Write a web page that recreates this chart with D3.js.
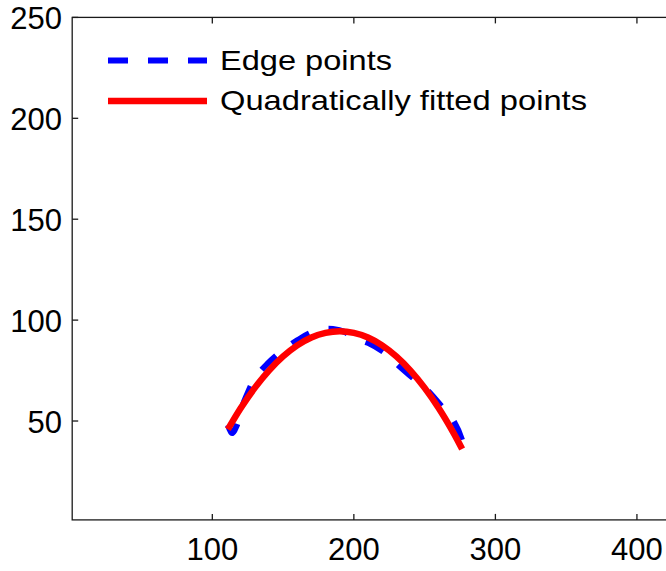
<!DOCTYPE html>
<html>
<head>
<meta charset="utf-8">
<script src="https://cdn.jsdelivr.net/npm/d3@7"></script>
<style>
  html, body { margin: 0; padding: 0; background: #fff; }
  svg { display: block; }
  text { font-family: "Liberation Sans", Arial, Helvetica, sans-serif; fill: #000; }
</style>
</head>
<body>
<svg id="chart" width="666" height="571"></svg>
<script>
// ---- data ----
const edgeX = [111.1, 113.9, 117.4, 120.3, 123.8, 130.2, 138.7, 149.2, 160.5, 174.6, 185.2, 193.7, 198.7, 210.0, 222.0, 231.2, 241.8, 251.7, 262.3, 270.0, 276.4, 277.8];
const edgeY = [48.0, 44.0, 48.0, 55.5, 61.9, 71.3, 78.2, 84.7, 90.2, 95.1, 95.6, 94.1, 91.6, 88.7, 83.7, 77.8, 71.3, 65.4, 57.0, 50.5, 40.6, 34.2];

const fitX = [111, 120, 130, 140, 150, 160, 170, 180, 190, 200, 210, 220, 230, 240, 250, 260, 270, 276.5];
const fitY = [45.8, 56.3, 66.4, 75.0, 82.0, 87.5, 91.4, 93.7, 94.5, 93.7, 91.4, 87.5, 82.0, 75.0, 66.4, 56.3, 44.6, 36.1];

const xTicks = [100, 200, 300, 400];
const yTicks = [50, 100, 150, 200, 250];
const seriesNames = ["Edge points", "Quadratically fitted points"];
const seriesColors = ["#0000ff", "#ff0000"];

// ---- layout ----
const svg = d3.select("#chart");
const x = d3.scaleLinear().domain([1, 450]).range([72.2, 707.7]);
const y = d3.scaleLinear().domain([1, 250]).range([519.9, 17.4]);

const axisColor = "#1a1a1a";
const tickLen = 6;

// frame (right side is cut off by the window)
svg.append("rect")
  .attr("x", x(1)).attr("y", y(250))
  .attr("width", x(450) - x(1)).attr("height", y(1) - y(250))
  .attr("fill", "none").attr("stroke", axisColor).attr("stroke-width", 1.3);

// x ticks (inward, bottom and top) + labels
const xg = svg.append("g");
xTicks.forEach(t => {
  xg.append("line").attr("x1", x(t)).attr("x2", x(t))
    .attr("y1", y(1)).attr("y2", y(1) - tickLen)
    .attr("stroke", axisColor).attr("stroke-width", 1.3);
  xg.append("line").attr("x1", x(t)).attr("x2", x(t))
    .attr("y1", y(250)).attr("y2", y(250) + tickLen)
    .attr("stroke", axisColor).attr("stroke-width", 1.3);
  xg.append("text").attr("x", x(t)).attr("y", 560)
    .attr("text-anchor", "middle").attr("font-size", 31).text(t);
});

// y ticks (inward) + labels
const yg = svg.append("g");
yTicks.forEach(t => {
  yg.append("line").attr("x1", x(1)).attr("x2", x(1) + tickLen)
    .attr("y1", y(t)).attr("y2", y(t))
    .attr("stroke", axisColor).attr("stroke-width", 1.3);
  yg.append("text").attr("x", 62).attr("y", y(t) + 11.5)
    .attr("text-anchor", "end").attr("font-size", 31).text(t);
});

// ---- series ----
const edgeData = edgeX.map((v, i) => [v, edgeY[i]]);
const fitData = fitX.map((v, i) => [v, fitY[i]]);

const edgeLine = d3.line().x(d => x(d[0])).y(d => y(d[1])).curve(d3.curveCatmullRom);
const fitLine = d3.line().x(d => x(d[0])).y(d => y(d[1])).curve(d3.curveCatmullRom);

svg.append("path").datum(edgeData)
  .attr("d", edgeLine)
  .attr("fill", "none").attr("stroke", seriesColors[0])
  .attr("stroke-width", 6).attr("stroke-dasharray", "20,20")
  .attr("stroke-linejoin", "round");

svg.append("path").datum(fitData)
  .attr("d", fitLine)
  .attr("fill", "none").attr("stroke", seriesColors[1])
  .attr("stroke-width", 6.5).attr("stroke-linejoin", "round");

// ---- legend ----
const leg = svg.append("g");
leg.append("line").attr("x1", 108).attr("x2", 207).attr("y1", 60.5).attr("y2", 60.5)
  .attr("stroke", seriesColors[0]).attr("stroke-width", 6).attr("stroke-dasharray", "20,20");
leg.append("line").attr("x1", 108).attr("x2", 207).attr("y1", 101).attr("y2", 101)
  .attr("stroke", seriesColors[1]).attr("stroke-width", 6.5);
leg.append("text").attr("x", 220).attr("y", 70).attr("font-size", 28)
  .attr("textLength", 172).attr("lengthAdjust", "spacingAndGlyphs").text(seriesNames[0]);
leg.append("text").attr("x", 220).attr("y", 110).attr("font-size", 28)
  .attr("textLength", 367).attr("lengthAdjust", "spacingAndGlyphs").text(seriesNames[1]);
</script>
</body>
</html>
